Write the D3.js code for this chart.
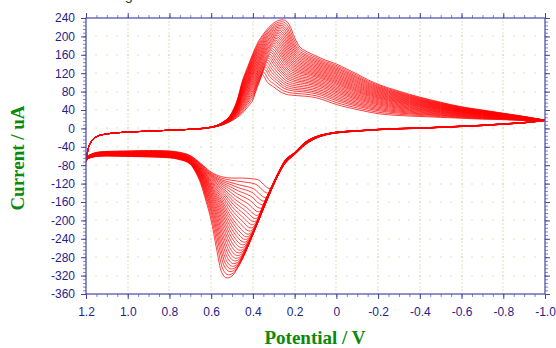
<!DOCTYPE html>
<html>
<head>
<meta charset="utf-8">
<script src="https://cdn.jsdelivr.net/npm/d3@7"></script>
<style>
  body { margin: 0; background: #fff; }
  svg { display: block; }
</style>
</head>
<body>
<svg id="chart" width="556" height="348"></svg>
<script>
// First and last cycle, read point by point (potential V, current uA).
// Points with the same index are the same feature on both traces (foot, peak, tail...).
var lowerFirstV = [1.2, 1.19, 1.17, 1.15, 1.1, 1.0, 0.9, 0.8, 0.75, 0.7, 0.65, 0.6, 0.55, 0.5, 0.45, 0.38, 0.318, 0.31, 0.305, 0.3, 0.295, 0.29, 0.284, 0.278, 0.271, 0.264, 0.255, 0.245, 0.2, 0.15, 0.1, 0.05, 0, -0.1, -0.2, -0.3, -0.4, -0.5, -0.6, -0.7, -0.8, -0.9, -1.0];
var lowerFirstI = [-72, -60, -55, -52, -50, -49, -48, -49, -52, -59, -76, -95, -105, -108, -108, -111, -131, -127, -123, -119, -115, -111, -106, -101, -95, -89, -82, -76, -57, -36, -22, -14, -10, -6, -3, -1, 0, 2, 4, 6, 9, 12, 17];
var lowerLastV = [1.2, 1.19, 1.17, 1.15, 1.1, 1.0, 0.9, 0.8, 0.75, 0.7, 0.675, 0.65, 0.625, 0.6, 0.575, 0.55, 0.525, 0.5, 0.475, 0.45, 0.425, 0.4, 0.375, 0.35, 0.325, 0.3, 0.275, 0.25, 0.2, 0.15, 0.1, 0.05, 0, -0.1, -0.2, -0.3, -0.4, -0.5, -0.6, -0.7, -0.8, -0.9, -1.0];
var lowerLastI = [-72, -66, -63, -61, -60, -61, -62, -64, -68, -78, -95, -120, -158, -200, -260, -313, -325, -321, -305, -284, -258, -227, -196, -166, -141, -116, -93, -72, -52, -30, -18, -12, -8, -5, -2, 0, 1, 3, 5, 7, 10, 13, 18];

var upperFirstV = [1.2, 1.19, 1.17, 1.15, 1.1, 1.0, 0.9, 0.8, 0.7, 0.65, 0.6, 0.55, 0.5, 0.475, 0.45, 0.43, 0.415, 0.4, 0.39, 0.38, 0.37, 0.362, 0.356, 0.33, 0.3, 0.27, 0.23, 0.15, 0.1, 0.05, 0, -0.05, -0.1, -0.2, -0.3, -0.4, -0.5, -0.6, -0.7, -0.8, -0.9, -1.0];
var upperFirstI = [-72, -45, -26, -18, -12, -8, -6, -4, -2, -1, 2, 7, 17, 24, 33, 44, 52, 62, 75, 88, 100, 110, 117, 100, 90, 80, 73, 70, 67, 60, 52, 46, 41, 32, 28, 26, 24, 22, 20, 19, 17, 17];
var upperLastV = [1.2, 1.19, 1.17, 1.15, 1.1, 1.0, 0.9, 0.8, 0.7, 0.65, 0.6, 0.55, 0.5, 0.475, 0.45, 0.425, 0.4, 0.375, 0.35, 0.325, 0.3, 0.275, 0.255, 0.225, 0.2, 0.175, 0.15, 0.1, 0.05, 0, -0.05, -0.1, -0.15, -0.2, -0.3, -0.4, -0.5, -0.6, -0.7, -0.8, -0.9, -1.0];
var upperLastI = [-72, -45, -26, -18, -12, -8, -6, -4, -2, 0, 3, 12, 35, 62, 104, 134, 163, 188, 205, 219, 229, 235, 236, 225, 197, 177, 169, 158, 148, 140, 129, 118, 106, 96, 81, 68, 57, 47, 40, 33, 26, 18];

// where each of the 30 cycles sits between the first and last trace (spacing read from the fans)
var cycleMix = [0, 0.05, 0.1, 0.14, 0.18, 0.22, 0.26, 0.3, 0.335, 0.37, 0.405, 0.44, 0.475, 0.51, 0.54, 0.57, 0.6, 0.63, 0.66, 0.69, 0.72, 0.75, 0.78, 0.81, 0.84, 0.87, 0.9, 0.93, 0.965, 1];

var xTicks = [1.2, 1.0, 0.8, 0.6, 0.4, 0.2, 0, -0.2, -0.4, -0.6, -0.8, -1.0];
var xTickLabels = ["1.2", "1.0", "0.8", "0.6", "0.4", "0.2", "0", "-0.2", "-0.4", "-0.6", "-0.8", "-1.0"];
var yTicks = [240, 200, 160, 120, 80, 40, 0, -40, -80, -120, -160, -200, -240, -280, -320, -360];

var svg = d3.select("#chart"),
    margin = {top: 18, right: 11, bottom: 54, left: 86},
    width = +svg.attr("width") - margin.left - margin.right,
    height = +svg.attr("height") - margin.top - margin.bottom,
    g = svg.append("g").attr("transform", "translate(" + margin.left + "," + margin.top + ")");

var x = d3.scaleLinear().domain([1.2, -1.0]).range([0, width]);
var y = d3.scaleLinear().domain([240, -360]).range([0, height]);

var xMinor = x.ticks(44);
var yMinor = d3.range(-360, 241, 8);

// cut-off title above the plot
svg.append("text")
    .attr("x", 125)
    .attr("y", 0)
    .attr("font-family", "Liberation Sans, Arial, sans-serif")
    .attr("font-size", 14)
    .attr("fill", "#333")
    .text("g");

// dotted grid: dots where minor ticks meet the major lines
var dots = [];
yTicks.slice(1, -1).forEach(function(v) {
  xMinor.forEach(function(u) { dots.push([u, v]); });
});
xTicks.slice(1, -1).forEach(function(u) {
  yMinor.forEach(function(v) { dots.push([u, v]); });
});
g.append("g").selectAll("rect")
    .data(dots)
  .enter().append("rect")
    .attr("x", function(d) { return Math.round(x(d[0])) - 0.5; })
    .attr("y", function(d) { return Math.round(y(d[1])) - 0.5; })
    .attr("width", 1)
    .attr("height", 1)
    .attr("fill", "#bcc48c");

// cycles
g.append("clipPath").attr("id", "plot-clip")
  .append("rect").attr("width", width).attr("height", height);

var line = d3.line()
    .x(function(d) { return x(d[0]); })
    .y(function(d) { return y(d[1]); })
    .curve(d3.curveMonotoneX);

// a cycle between the first and the last one: each feature point moves part of the way
function trace(fv, fi, lv, li, m) {
  return fv.map(function(v, i) {
    return [v + m * (lv[i] - v), fi[i] + m * (li[i] - fi[i])];
  });
}

var curves = g.append("g").attr("clip-path", "url(#plot-clip)");
cycleMix.forEach(function(m) {
  [trace(lowerFirstV, lowerFirstI, lowerLastV, lowerLastI, m),
   trace(upperFirstV, upperFirstI, upperLastV, upperLastI, m)]
    .forEach(function(pts) {
      curves.append("path")
          .datum(pts)
          .attr("fill", "none")
          .attr("stroke", "#ff0000")
          .attr("stroke-width", 0.75)
          .attr("stroke-linejoin", "round")
          .attr("d", line);
    });
});

// frame and ticks
var axisColor = "#4646a8", minorColor = "#8282cc", labelColor = "#1e1e8c";

function styleAxis(sel, color) {
  sel.select(".domain").remove();
  sel.selectAll("line").attr("stroke", color);
  sel.selectAll("text")
      .attr("fill", labelColor)
      .attr("font-family", "Liberation Sans, Arial, sans-serif")
      .attr("font-size", 12);
}

g.append("g").attr("transform", "translate(0," + height + ")")
    .call(d3.axisBottom(x).tickValues(xMinor).tickSize(3).tickFormat(""))
    .call(styleAxis, minorColor);
g.append("g").attr("transform", "translate(0," + height + ")")
    .call(d3.axisBottom(x).tickValues(xTicks).tickSize(5).tickPadding(8)
      .tickFormat(function(d, i) { return xTickLabels[i]; }))
    .call(styleAxis, axisColor);

g.append("g")
    .call(d3.axisTop(x).tickValues(xMinor).tickSize(3).tickFormat(""))
    .call(styleAxis, minorColor);
g.append("g")
    .call(d3.axisTop(x).tickValues(xTicks).tickSize(5).tickFormat(""))
    .call(styleAxis, axisColor);

g.append("g")
    .call(d3.axisLeft(y).tickValues(yMinor).tickSize(3).tickFormat(""))
    .call(styleAxis, minorColor);
g.append("g")
    .call(d3.axisLeft(y).tickValues(yTicks).tickSize(5).tickPadding(6)
      .tickFormat(function(d) { return String(d); }))
    .call(styleAxis, axisColor);

g.append("g").attr("transform", "translate(" + width + ",0)")
    .call(d3.axisRight(y).tickValues(yMinor).tickSize(3).tickFormat(""))
    .call(styleAxis, minorColor);
g.append("g").attr("transform", "translate(" + width + ",0)")
    .call(d3.axisRight(y).tickValues(yTicks).tickSize(5).tickFormat(""))
    .call(styleAxis, axisColor);

g.append("rect")
    .attr("width", width)
    .attr("height", height)
    .attr("fill", "none")
    .attr("stroke", axisColor)
    .attr("stroke-width", 1.2);

// axis titles
svg.append("text")
    .attr("x", 315)
    .attr("y", 344)
    .attr("text-anchor", "middle")
    .attr("font-family", "Liberation Serif, Times New Roman, serif")
    .attr("font-weight", "bold")
    .attr("font-size", 19)
    .attr("fill", "#0a8a0a")
    .text("Potential / V");

svg.append("text")
    .attr("transform", "translate(24,158) rotate(-90)")
    .attr("text-anchor", "middle")
    .attr("font-family", "Liberation Serif, Times New Roman, serif")
    .attr("font-weight", "bold")
    .attr("font-size", 19)
    .attr("fill", "#0a8a0a")
    .text("Current / uA");
</script>
</body>
</html>
